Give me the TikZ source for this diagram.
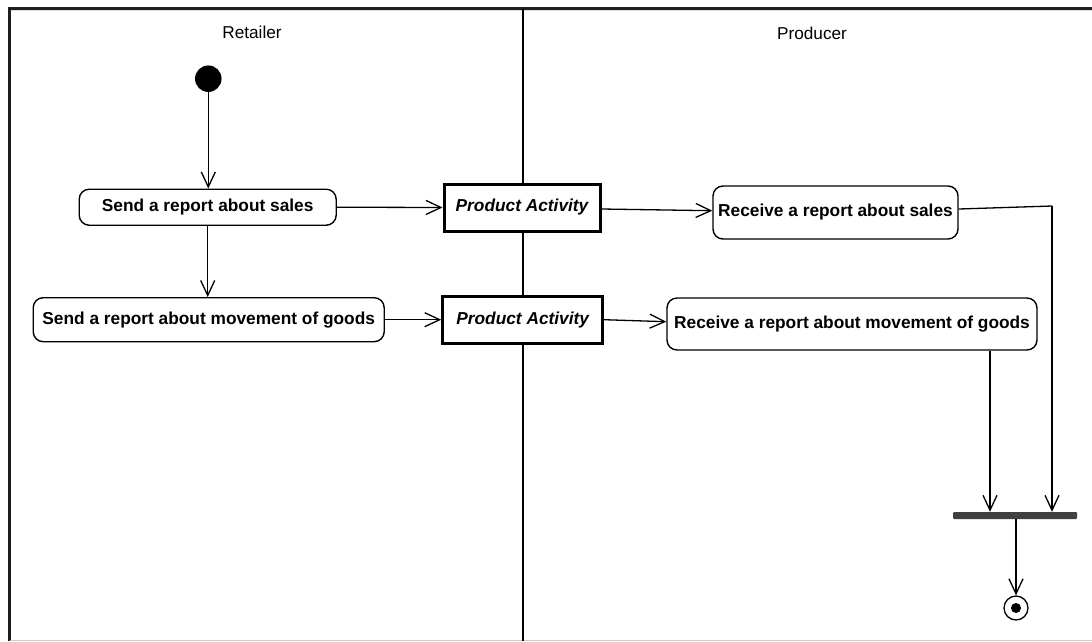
\documentclass[tikz,border=0pt]{standalone}
\usepackage{fontspec}
\setmainfont{Liberation Sans}
\usetikzlibrary{arrows.meta}
\definecolor{frameline}{HTML}{1E1E1E}
\definecolor{barcol}{HTML}{404040}
\tikzset{
  lane/.style={font=\fontsize{17.2}{20}\selectfont},
  action/.style={draw=black, line width=1.4pt, rounded corners=10pt, fill=white,
    font=\fontsize{17.3}{20}\selectfont\bfseries, inner sep=0pt, align=center},
  pact/.style={draw=black, line width=3pt, fill=white,
    font=\fontsize{17.3}{20}\selectfont\bfseries\itshape, inner sep=0pt},
  flow/.style={line width=1.3pt, -{Straight Barb[length=15pt,width=14pt,line width=1.3pt]}},
  plain/.style={line width=1.3pt},
}
\begin{document}
\begin{tikzpicture}[x=1pt,y=-1pt]
\useasboundingbox (0,0) rectangle (1092,641);
% frame
\draw[gray!25, line width=1pt] (10,10.8) -- (1092,10.8);
\draw[frameline, line width=3pt] (7.5,8.3) -- (1092,8.3);
\draw[frameline, line width=3pt] (9,7) -- (9,641);
\draw[gray!40, line width=1pt] (10,640) -- (1092,640);
\draw[black, line width=1.8pt] (523.3,9) -- (523.3,641);
% lane titles
\node[lane] (retailer) at (252,32) {Retailer};
\node[lane] (producer) at (812,33) {Producer};
% nodes
\node[circle, fill=black, minimum size=26.5pt, inner sep=0pt] (start) at (208.3,78.7) {};
\node[action, minimum width=257pt, minimum height=36pt] (box1) at (207.7,207.2) {Send a report about sales};
\node[action, minimum width=351pt, minimum height=44pt] (box2) at (208.7,319.7) {Send a report about movement of goods};
\node[pact, minimum width=156pt, minimum height=47pt] (pa1) at (522,207.5) {Product Activity};
\node[pact, minimum width=160pt, minimum height=47pt] (pa2) at (522.7,319.7) {Product Activity};
\node[action, minimum width=245pt, minimum height=53pt] (r1) at (835.5,212.5) {\raisebox{3pt}{Receive a report about sales}};
\node[action, minimum width=370pt, minimum height=52pt] (r2) at (852,324) {\raisebox{3pt}{Receive a report about movement of goods}};
\node[fill=barcol, rounded corners=1pt, minimum width=124pt, minimum height=7pt, inner sep=0pt] (bar) at (1015,515.5) {};
\node[circle, draw=black, line width=1.3pt, minimum size=24pt, inner sep=0pt] (end) at (1016,608) {};
\node[circle, fill=black, minimum size=10pt, inner sep=0pt] (endin) at (end.center) {};
\coordinate (c1) at (1052,206);
% connectors
\draw[flow] (start) -- (start |- box1.north);
\draw[flow] (box1.south) -- (box1.south |- box2.north);
\draw[flow] (box1.east) -- (pa1.west);
\draw[flow] (box2.east) -- (pa2.west);
\draw[flow] ([yshift=-1.5pt]pa1.east) -- ([yshift=1.8pt]r1.west);
\draw[flow] (pa2.east) -- ([yshift=2.3pt]r2.west);
\draw[plain] ([yshift=3.5pt]r1.east) -- (c1);
\draw[flow] (c1) -- (c1 |- bar.north);
\draw[flow] ([xshift=138pt]r2.south) -- ([xshift=138pt]r2.south |- bar.north);
\draw[flow] (bar.south -| end.north) -- (end.north);
\end{tikzpicture}
\end{document}
